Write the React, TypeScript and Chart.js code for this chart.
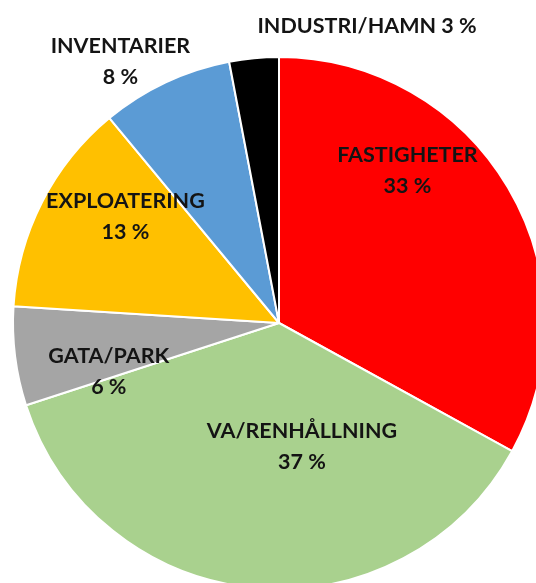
import React, { useEffect, useRef } from "react";
import { Chart, registerables } from "chart.js";

Chart.register(...registerables);

const categories = [
  "FASTIGHETER",
  "VA/RENHÅLLNING",
  "GATA/PARK",
  "EXPLOATERING",
  "INVENTARIER",
  "INDUSTRI/HAMN",
];
const shares = [33, 37, 6, 13, 8, 3];
const sliceColors = ["#FF0000", "#A9D18E", "#A5A5A5", "#FFC000", "#5B9BD5", "#000000"];

// label placement relative to the pie: [angle from 12 o'clock in degrees, fraction of radius]
const labelAngles = [40.2, 169.5, 254.2, 304.8, 328.8, 16.5];
const labelRadii = [0.748, 0.474, 0.665, 0.703, 1.151, 1.165];
const singleLine = [false, false, false, false, false, true];

const FONT = "bold 21.5px Lato";
const LINE_GAP = 31;

const labelPlugin = {
  id: "sliceLabels",
  afterDatasetsDraw(chart: any) {
    const meta = chart.getDatasetMeta(0);
    const ctx = chart.ctx;
    ctx.save();
    ctx.font = FONT;
    ctx.fillStyle = "#141414";
    ctx.textAlign = "center";
    ctx.textBaseline = "middle";
    meta.data.forEach((arc: any, i: number) => {
      const { x, y, outerRadius } = arc.getProps(["x", "y", "outerRadius"], true);
      const a = (labelAngles[i] * Math.PI) / 180;
      const r = outerRadius * labelRadii[i];
      const lx = x + Math.sin(a) * r;
      const ly = y - Math.cos(a) * r;
      const pct = `${shares[i]} %`;
      if (singleLine[i]) {
        ctx.fillText(`${categories[i]} ${pct}`, lx, ly);
      } else {
        ctx.fillText(categories[i], lx, ly - LINE_GAP / 2);
        ctx.fillText(pct, lx, ly + LINE_GAP / 2);
      }
    });
    ctx.restore();
  },
};

export default function App() {
  const ref = useRef<HTMLCanvasElement | null>(null);
  useEffect(() => {
    if (!ref.current) return;
    const chart = new Chart(ref.current, {
      type: "pie",
      data: {
        labels: categories,
        datasets: [
          {
            data: shares,
            backgroundColor: sliceColors,
            borderColor: "#FFFFFF",
            borderWidth: 2,
            radius: 266,
            clip: false,
          } as any,
        ],
      },
      options: {
        responsive: false,
        animation: false,
        layout: { padding: { left: 22, right: 0, top: 63, bottom: 0 } },
        plugins: {
          legend: { display: false },
          tooltip: { enabled: false },
        },
      },
      plugins: [labelPlugin],
    });
    return () => chart.destroy();
  }, []);
  return (
    <div
      style={{
        position: "fixed",
        left: 0,
        top: 0,
        width: 536,
        height: 583,
        overflow: "hidden",
        background: "#fff",
      }}
    >
      <canvas ref={ref} width={536} height={583} style={{ display: "block" }} />
    </div>
  );
}
